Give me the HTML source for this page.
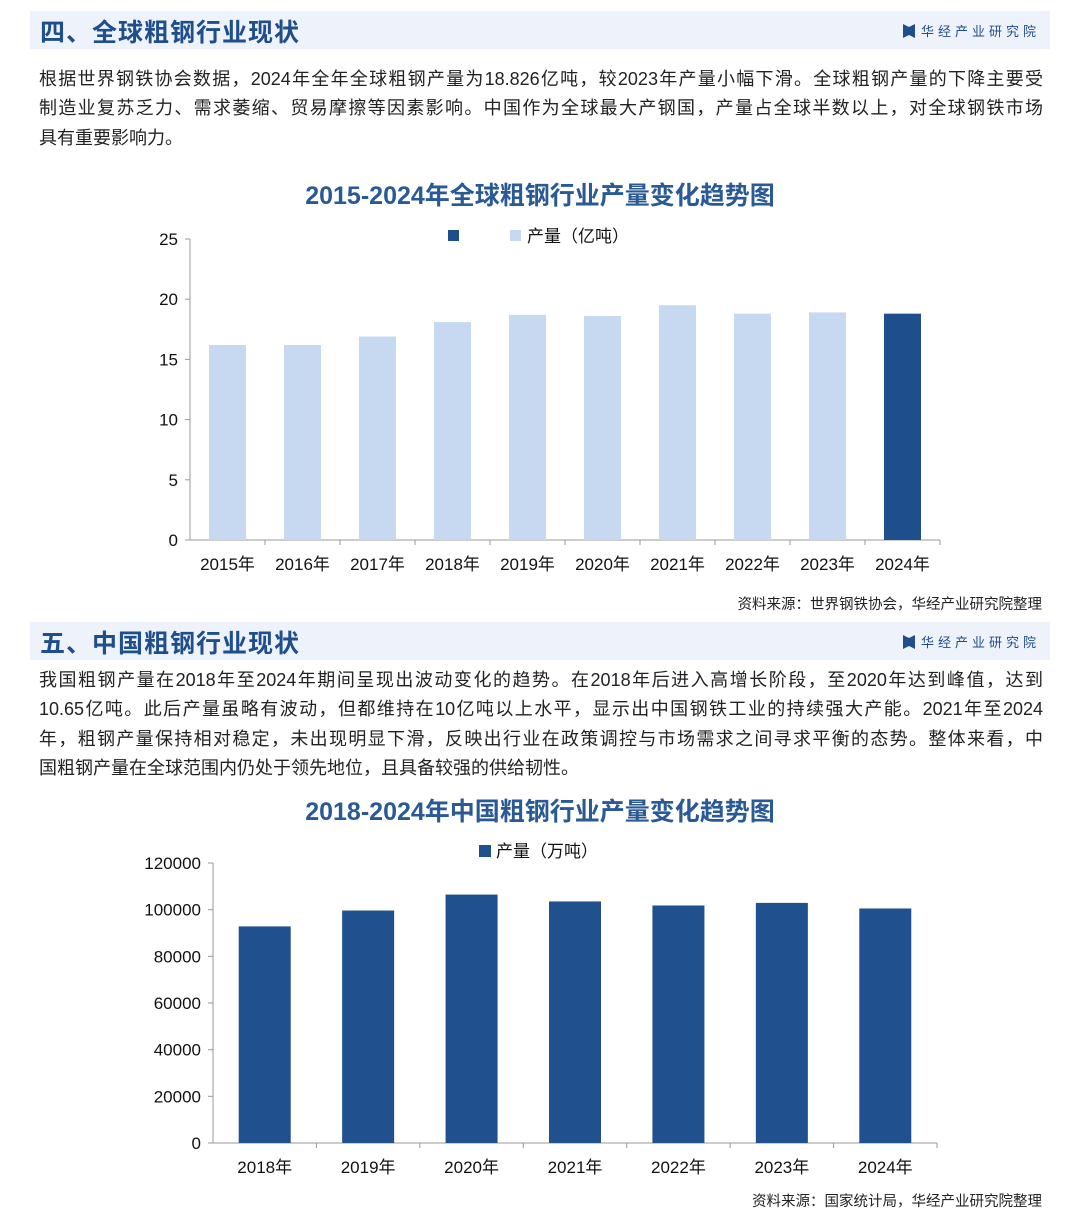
<!DOCTYPE html>
<html><head><meta charset="utf-8"><style>
body{margin:0;width:1080px;height:1215px;background:#fff;position:relative;overflow:hidden;font-family:"Liberation Sans","Noto Sans CJK SC",sans-serif;}
.hdr{position:absolute;left:30px;width:1020px;height:38px;background:#eef2fa;}
.hdr h2{margin:0;position:absolute;left:10px;top:2px;font-size:25px;color:#1f4e8c;font-weight:bold;letter-spacing:1px;}
.logo{position:absolute;right:10px;top:10px;font-size:13px;color:#1f4e8c;letter-spacing:4px;}
.logo i{display:inline-block;width:12px;height:14px;background:#1f4e8c;vertical-align:-2px;margin-right:6px;clip-path:polygon(0 0,45% 20%,55% 20%,100% 0,100% 100%,55% 80%,45% 80%,0 100%);}
.p{position:absolute;left:39px;width:1004px;font-size:18px;line-height:29.3px;color:#222;}
.p div{text-align:justify;text-align-last:justify;white-space:nowrap;}
.p div.last{text-align-last:left;}
.ct{position:absolute;width:1080px;text-align:center;font-size:25px;font-weight:bold;color:#2a5a95;}
.src{position:absolute;right:38px;font-size:14.5px;color:#222;}
svg text{font-family:"Liberation Sans","Noto Sans CJK SC",sans-serif;}
</style></head><body>
<div class="hdr" style="top:11px"><h2>四、全球粗钢行业现状</h2><div class="logo"><i></i>华经产业研究院</div></div>
<div class="p" style="top:65px"><div>根据世界钢铁协会数据，2024年全年全球粗钢产量为18.826亿吨，较2023年产量小幅下滑。全球粗钢产量的下降主要受</div><div>制造业复苏乏力、需求萎缩、贸易摩擦等因素影响。中国作为全球最大产钢国，产量占全球半数以上，对全球钢铁市场</div><div class="last">具有重要影响力。</div></div>
<div class="ct" style="top:176px">2015-2024年全球粗钢行业产量变化趋势图</div>
<svg id="c1" style="position:absolute;left:0;top:0" width="1080" height="600"></svg>
<div class="src" style="top:593px">资料来源：世界钢铁协会，华经产业研究院整理</div>
<div class="hdr" style="top:622px"><h2>五、中国粗钢行业现状</h2><div class="logo"><i></i>华经产业研究院</div></div>
<div class="p" style="top:666px"><div>我国粗钢产量在2018年至2024年期间呈现出波动变化的趋势。在2018年后进入高增长阶段，至2020年达到峰值，达到</div><div>10.65亿吨。此后产量虽略有波动，但都维持在10亿吨以上水平，显示出中国钢铁工业的持续强大产能。2021年至2024</div><div>年，粗钢产量保持相对稳定，未出现明显下滑，反映出行业在政策调控与市场需求之间寻求平衡的态势。整体来看，中</div><div class="last">国粗钢产量在全球范围内仍处于领先地位，且具备较强的供给韧性。</div></div>
<div class="ct" style="top:792px">2018-2024年中国粗钢行业产量变化趋势图</div>
<svg id="c2" style="position:absolute;left:0;top:0" width="1080" height="1215"></svg>
<div class="src" style="top:1190px">资料来源：国家统计局，华经产业研究院整理</div>
<script>
const years1=["2015年","2016年","2017年","2018年","2019年","2020年","2021年","2022年","2023年","2024年"];
const output1=[16.2,16.2,16.9,18.1,18.7,18.6,19.5,18.8,18.9,18.8];
const ticks1=[0,5,10,15,20,25];
const years2=["2018年","2019年","2020年","2021年","2022年","2023年","2024年"];
const output2=[92826,99634,106477,103524,101796,102905,100509];
const ticks2=[0,20000,40000,60000,80000,100000,120000];
const NS="http://www.w3.org/2000/svg";
function mk(svg,tag,attrs,txt){const e=document.createElementNS(NS,tag);for(const k in attrs)e.setAttribute(k,attrs[k]);if(txt!==undefined)e.textContent=txt;svg.appendChild(e);return e;}
function chart(svg,cats,vals,ticks,x0,x1,y0,y1,max,bw,colorFn,prefix){
  const y=v=>y0-(v/max)*(y0-y1);
  const step=(x1-x0)/cats.length;
  let e=mk(svg,'line',{x1:x0,y1:y1,x2:x0,y2:y0,stroke:'#999'});
  
  
  e=mk(svg,'line',{x1:x0,y1:y0,x2:x1,y2:y0,stroke:'#999'});
  
  
  ticks.forEach(t=>{mk(svg,'line',{x1:x0-5,y1:y(t),x2:x0,y2:y(t),stroke:'#999'});
    e=mk(svg,'text',{x:x0-12,y:y(t)+6,'text-anchor':'end','font-size':17,fill:'#111'},t);
    
    });
  cats.forEach((c,i)=>{const cx=x0+step*(i+0.5);
    mk(svg,'line',{x1:x0+step*(i+1),y1:y0,x2:x0+step*(i+1),y2:y0+5,stroke:'#999'});
    e=mk(svg,'rect',{x:cx-bw/2,y:y(vals[i]),width:bw,height:y0-y(vals[i]),fill:colorFn(i)});
    
    
    e=mk(svg,'text',{x:cx,y:y0+30,'text-anchor':'middle','font-size':17,fill:'#111'},c);
    
    });
}
const s1=document.getElementById('c1');
chart(s1,years1,output1,ticks1,190,940,540,239,25,37,i=>i===years1.length-1?'#1f4e8c':'#c6d9f0','c1');
let l=mk(s1,'rect',{x:448,y:230,width:11,height:11,fill:'#1f4e8c'});


l=mk(s1,'rect',{x:510,y:230,width:11,height:11,fill:'#c6d9f0'});


l=mk(s1,'text',{x:527,y:242,'font-size':17,fill:'#111'},'产量（亿吨）');


const s2=document.getElementById('c2');
chart(s2,years2,output2,ticks2,213,937,1143,863,120000,52,i=>'#21508f','c2');
l=mk(s2,'rect',{x:479,y:845,width:12,height:12,fill:'#21508f'});


l=mk(s2,'text',{x:496,y:857,'font-size':17,fill:'#111'},'产量（万吨）');


</script>
</body></html>
